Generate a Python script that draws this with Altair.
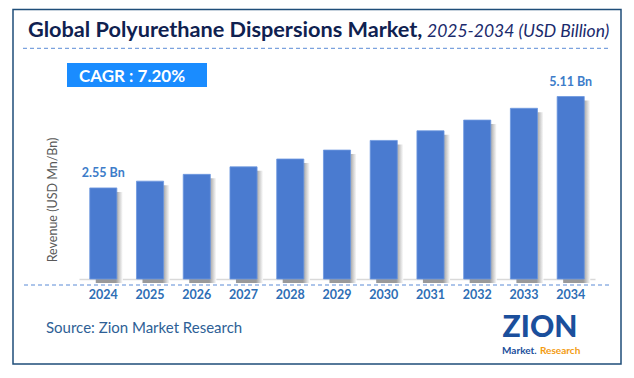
import altair as alt
import pandas as pd

years = ["2024", "2025", "2026", "2027", "2028", "2029", "2030", "2031", "2032", "2033", "2034"]
revenue = [2.55, 2.74, 2.93, 3.14, 3.36, 3.61, 3.88, 4.15, 4.45, 4.78, 5.11]
labels = ["2.55 Bn", "", "", "", "", "", "", "", "", "", "5.11 Bn"]

title_main = "Global Polyurethane Dispersions Market,"
title_sub = "2025-2034 (USD Billion)"
cagr_text = "CAGR :  7.20%"
y_title = "Revenue (USD Mn/Bn)"
source_text = "Source: Zion Market Research"

df = pd.DataFrame({"year": years, "revenue": revenue, "label": labels})
one = pd.DataFrame({"k": [0]})

FONT = "Lato"
BAR = "#4a7bd0"

xscale = alt.Scale(paddingInner=0.42, paddingOuter=0.23)
yscale = alt.Scale(domain=[0, 5.6], nice=False)

x_enc = alt.X(
    "year:O",
    scale=xscale,
    sort=years,
    axis=alt.Axis(
        title=None, ticks=False, domain=True, domainColor="#d9d9d9", domainWidth=1.5,
        labelAngle=0, labelFont=FONT, labelFontWeight="bold", labelFontSize=12.5,
        labelColor="#2e6eb5", labelPadding=9,
    ),
)
y_enc = alt.Y("revenue:Q", scale=yscale, axis=None)

shadow = alt.Chart(df).mark_bar(
    xOffset=6, yOffset=4,
    color=alt.Gradient(
        gradient="linear", x1=0, x2=1, y1=0, y2=0,
        stops=[alt.GradientStop(color="#9a9a9a", offset=0.74),
               alt.GradientStop(color="#ffffff", offset=1.0)],
    ),
).encode(x=x_enc, y=y_enc)

bars = alt.Chart(df).mark_bar(color=BAR, stroke="#6d98e0", strokeWidth=0.8).encode(x=x_enc, y=y_enc)

vlabels = alt.Chart(df).mark_text(
    font=FONT, fontWeight="bold", fontSize=12.5, color="#3d7cc9", baseline="bottom", dy=-8
).encode(x=x_enc, y=y_enc, text="label:N")

def txt(text, x, y, **kw):
    return alt.Chart(one).mark_text(**kw).encode(x=alt.value(x), y=alt.value(y), text=alt.value(text))

def rule(x, x2, y, y2, **kw):
    return alt.Chart(one).mark_rule(**kw).encode(x=alt.value(x), x2=alt.value(x2), y=alt.value(y), y2=alt.value(y2))

border = alt.Chart(one).mark_rect(filled=False, stroke="#1f4e79", strokeWidth=1.5).encode(
    x=alt.value(-66), x2=alt.value(542), y=alt.value(-69.5), y2=alt.value(285)
)
cagr_box = alt.Chart(one).mark_rect(color="#1a8cff").encode(
    x=alt.value(-12), x2=alt.value(128), y=alt.value(-16), y2=alt.value(8)
)

layers = [
    border,
    txt(title_main, -51, -42, font=FONT, fontWeight="bold", fontSize=21.7, color="#0f2150", align="left", baseline="alphabetic"),
    txt(title_sub, 348, -42, font=FONT, fontStyle="italic", fontSize=17.5, color="#1a2a6c", align="left", baseline="alphabetic"),
    rule(-56, 529, -30.7, -30.7, color="#5b8bd6", strokeDash=[4, 3], strokeWidth=1),
    cagr_box,
    txt(cagr_text, 0, 2.7, font=FONT, fontWeight="bold", fontSize=17, color="#ffffff", align="left", baseline="alphabetic"),
    txt(y_title, -26, 121, font=FONT, fontSize=12.5, color="#595959", angle=270, align="center", baseline="middle"),
    shadow,
    bars,
    vlabels,
    rule(-55, 531, 206, 206, color="#5b8bd6", strokeDash=[4, 3], strokeWidth=1),
    txt(source_text, -33, 254, font=FONT, fontSize=15, color="#2e5f96", align="left", baseline="alphabetic"),
    txt("ZION", 461, 258, font=FONT, fontWeight=900, fontSize=30, color="#1b4f9c", align="center", baseline="alphabetic"),
    txt("Market.", 423, 275, font=FONT, fontWeight="bold", fontSize=10, color="#1b4f9c", align="left", baseline="alphabetic"),
    txt("Research", 461, 275, font=FONT, fontWeight="bold", fontSize=10, color="#f39c12", align="left", baseline="alphabetic"),
]

chart = alt.layer(*layers).properties(
    width=516, height=200,
    autosize=alt.AutoSizeParams(type="none"),
    padding={"left": 71, "top": 71, "right": 31, "bottom": 91},
    background="white",
).configure_view(stroke=None)

chart.save("out.html", embed_options={"renderer": "svg", "actions": False})
